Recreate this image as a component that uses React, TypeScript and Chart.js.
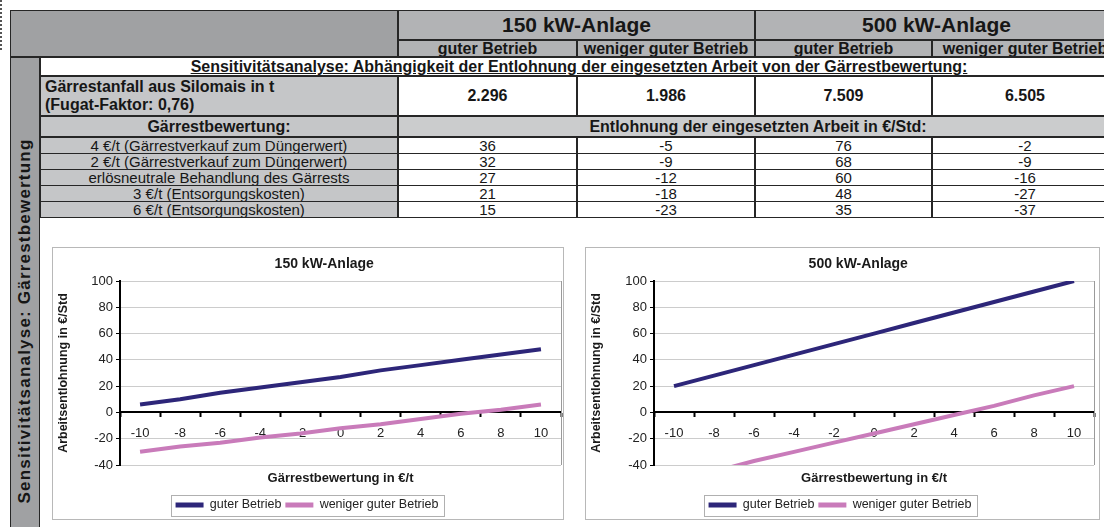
import React, { useEffect, useRef } from "react";
import { Chart, registerables } from "chart.js";

Chart.register(...registerables);

const FONT = '"Liberation Sans", Arial, Helvetica, sans-serif';
Chart.defaults.font.family = FONT;

// ---------- data ----------
const xCategories = ["-10", "-8", "-6", "-4", "-2", "0", "2", "4", "6", "8", "10"];
const yMin = -40;
const yMax = 100;
const yStep = 20;
const seriesNames = ["guter Betrieb", "weniger guter Betrieb"];
const chartTitles = ["150 kW-Anlage", "500 kW-Anlage"];
const xAxisTitle = "Gärrestbewertung in €/t";
const yAxisTitle = "Arbeitsentlohnung in €/Std";

const plant150Good = [6, 10, 15, 19, 23, 27, 32, 36, 40, 44, 48];
const plant150Less = [-30, -26, -23, -19, -16, -12, -9, -5, -1, 2, 6];
const plant500Good = [20, 28, 36, 44, 52, 60, 68, 76, 84, 92, 100];
const plant500Less = [-52, -45, -37, -30, -23, -16, -9, -2, 5, 13, 20];

const plantHeaders = ["150 kW-Anlage", "500 kW-Anlage"];
const subHeaders = ["guter Betrieb", "weniger guter Betrieb", "guter Betrieb", "weniger guter Betrieb"];
const sectionTitle =
  "Sensitivitätsanalyse: Abhängigkeit der Entlohnung der eingesetzten Arbeit von der Gärrestbewertung:";
const digestateLabel = ["Gärrestanfall aus Silomais in t", "(Fugat-Faktor: 0,76)"];
const digestateAmounts = ["2.296", "1.986", "7.509", "6.505"];
const valuationHeader = "Gärrestbewertung:";
const wageHeader = "Entlohnung der eingesetzten Arbeit in €/Std:";
const scenarios = [
  "4 €/t (Gärrestverkauf zum Düngerwert)",
  "2 €/t (Gärrestverkauf zum Düngerwert)",
  "erlösneutrale Behandlung des Gärrests",
  "3 €/t (Entsorgungskosten)",
  "6 €/t (Entsorgungskosten)",
];
const wage150Good = [36, 32, 27, 21, 15];
const wage150Less = [-5, -9, -12, -18, -23];
const wage500Good = [76, 68, 60, 48, 35];
const wage500Less = [-2, -9, -16, -27, -37];
const sideLabel = "Sensitivitätsanalyse: Gärrestbewertung";

// ---------- styles ----------
const GOOD = "#2d2679";
const LESS = "#c97bba";
const DARK_GRAY = "#a0a1a3";
const HEAD_GRAY = "#b2b3b5";
const LIGHT_GRAY = "#c5c6c8";
const LINE = "#262626";
const TEXT = "#161616";

// ---------- chart plugins ----------
const frameTitlePlugin = {
  id: "frameTitle",
  afterDraw(chart: any, _args: any, opts: any) {
    const { ctx, chartArea, width } = chart;
    ctx.save();
    ctx.font = `bold 14px ${FONT}`;
    ctx.fillStyle = "#1a1a1a";
    ctx.textAlign = "center";
    ctx.textBaseline = "middle";
    const x = (width / 2 + (chartArea.left + chartArea.right) / 2) / 2;
    ctx.fillText(opts.text, x, opts.y);
    ctx.restore();
  },
};

const plotFramePlugin = {
  id: "plotFrame",
  beforeDatasetsDraw(chart: any) {
    const { ctx, chartArea } = chart;
    ctx.save();
    ctx.strokeStyle = "#9a9a9a";
    ctx.lineWidth = 1;
    ctx.beginPath();
    const r = Math.round(chartArea.right) + 0.5;
    ctx.moveTo(r, chartArea.top);
    ctx.lineTo(r, chartArea.bottom);
    ctx.stroke();
    ctx.restore();
  },
};

const legendFramePlugin = {
  id: "legendFrame",
  afterDraw(chart: any) {
    const hb = chart.legend && chart.legend.legendHitBoxes;
    if (!hb || !hb.length) return;
    const { ctx } = chart;
    const l = Math.min(...hb.map((h: any) => h.left)) - 5;
    const r = Math.max(...hb.map((h: any) => h.left + h.width)) + 5;
    const t = hb[0].top - 4;
    const b = hb[0].top + hb[0].height + 4;
    ctx.save();
    ctx.strokeStyle = "#b0b0b0";
    ctx.lineWidth = 1;
    ctx.strokeRect(Math.round(l) + 0.5, Math.round(t) + 0.5, Math.round(r - l), Math.round(b - t));
    ctx.restore();
  },
};

type ChartProps = {
  title: string;
  good: number[];
  less: number[];
  left: number;
  top: number;
  width: number;
  height: number;
  yAxisWidth: number;
  padRight: number;
};

function LineChart(p: ChartProps) {
  const ref = useRef<HTMLCanvasElement>(null);
  useEffect(() => {
    const chart = new Chart(ref.current as HTMLCanvasElement, {
      type: "line",
      data: {
        labels: xCategories,
        datasets: [
          {
            label: seriesNames[0],
            data: p.good,
            borderColor: GOOD,
            backgroundColor: GOOD,
            borderWidth: 4,
            pointRadius: 0,
            tension: 0,
          },
          {
            label: seriesNames[1],
            data: p.less,
            borderColor: LESS,
            backgroundColor: LESS,
            borderWidth: 4,
            pointRadius: 0,
            tension: 0,
          },
        ],
      },
      options: {
        animation: false,
        responsive: false,
        maintainAspectRatio: false,
        events: [],
        layout: { padding: { top: 33, right: p.padRight, bottom: 6.75, left: 0 } },
        plugins: {
          title: { display: false },
          tooltip: { enabled: false },
          legend: {
            position: "bottom",
            labels: {
              boxWidth: 28,
              boxHeight: 5,
              padding: 4,
              color: "#222",
              font: { size: 12.5, family: FONT },
              generateLabels: (c: any) =>
                Chart.defaults.plugins.legend.labels
                  .generateLabels(c)
                  .map((l: any) => ({ ...l, lineWidth: 0, fillStyle: l.strokeStyle })),
            },
          },
          frameTitle: { text: p.title, y: 16 },
        } as any,
        scales: {
          x: {
            type: "category",
            position: { y: 0 } as any,
            offset: true,
            grid: {
              display: true,
              drawOnChartArea: false,
              drawTicks: true,
              tickLength: 4,
              offset: true,
              color: "#000",
              tickColor: "#000",
              tickWidth: 2,
            },
            border: { display: true, color: "#000", width: 2 },
            ticks: {
              color: "#222",
              font: { size: 13 },
              padding: 9,
              maxRotation: 0,
              autoSkip: false,
            },
            afterFit: (s: any) => {
              s.height = 0;
            },
          },
          x2: {
            type: "category",
            labels: xCategories,
            position: "bottom",
            grid: { display: false },
            border: { display: false },
            ticks: { display: false },
            title: {
              display: true,
              text: xAxisTitle,
              color: "#1a1a1a",
              font: { size: 13, weight: "bold" },
              padding: { top: 0, bottom: 9 },
            },
            afterFit: (s: any) => {
              s.height = 29.75;
            },
          },
          y: {
            min: yMin,
            max: yMax,
            ticks: { stepSize: yStep, color: "#222", font: { size: 13 }, padding: 3 },
            grid: { color: "#cccccc", lineWidth: 1, tickLength: 4, tickColor: "#000" },
            border: { display: true, color: "#000", width: 2 },
            title: {
              display: true,
              text: yAxisTitle,
              color: "#1a1a1a",
              font: { size: 12.5, weight: "bold" },
              padding: { top: 3.5, bottom: 0 },
            },
            afterFit: (s: any) => {
              s.width = p.yAxisWidth;
            },
          },
        } as any,
      },
      plugins: [frameTitlePlugin, plotFramePlugin, legendFramePlugin],
    } as any);
    return () => chart.destroy();
  }, []);
  return (
    <canvas
      ref={ref}
      width={p.width}
      height={p.height}
      style={{ position: "absolute", left: p.left, top: p.top, width: p.width, height: p.height }}
    />
  );
}

// ---------- table helpers ----------
type CellProps = {
  x: number;
  y: number;
  w: number;
  h: number;
  bg?: string;
  children?: React.ReactNode;
  style?: React.CSSProperties;
  border?: boolean;
};

function Cell({ x, y, w, h, bg = "#fff", children, style, border = true }: CellProps) {
  return (
    <div
      style={{
        position: "absolute",
        left: x,
        top: y,
        width: w,
        height: h,
        boxSizing: "border-box",
        background: bg,
        border: border ? `1px solid ${LINE}` : "none",
        display: "flex",
        alignItems: "center",
        justifyContent: "center",
        whiteSpace: "nowrap",
        overflow: "hidden",
        color: TEXT,
        fontFamily: FONT,
        ...style,
      }}
    >
      {children}
    </div>
  );
}

const colX = [398, 577, 755, 932];
const colW = [179, 178, 177, 186];
const rowY0 = 137;
const rowH = 16;

export default function App() {
  const wageCols = [wage150Good, wage150Less, wage500Good, wage500Less];
  return (
    <div
      style={{
        position: "fixed",
        left: 0,
        top: 0,
        width: 1104,
        height: 527,
        overflow: "hidden",
        background: "#fff",
        fontFamily: FONT,
      }}
    >
      <div
        style={{
          position: "absolute",
          left: 0,
          top: 0,
          height: 50,
          borderLeft: "2px dotted #555",
        }}
      />
      {/* header */}
      <Cell x={10} y={10} w={388} h={47} bg={DARK_GRAY} />
      <Cell x={398} y={10} w={357} h={30} bg={HEAD_GRAY} style={{ fontSize: 21, fontWeight: "bold" }}>
        {plantHeaders[0]}
      </Cell>
      <Cell x={755} y={10} w={363} h={30} bg={HEAD_GRAY} style={{ fontSize: 21, fontWeight: "bold" }}>
        {plantHeaders[1]}
      </Cell>
      {subHeaders.map((s, i) => (
        <Cell
          key={"sh" + i}
          x={colX[i]}
          y={40}
          w={colW[i]}
          h={17}
          bg={HEAD_GRAY}
          style={{ fontSize: 16, fontWeight: "bold", lineHeight: "15px" }}
        >
          {s}
        </Cell>
      ))}
      {/* side column */}
      <Cell x={10} y={57} w={30} h={480} bg={DARK_GRAY} />
      <div
        style={{
          position: "absolute",
          left: 25,
          top: 321,
          transform: "translate(-50%, -50%) rotate(-90deg)",
          whiteSpace: "nowrap",
          fontSize: 17,
          letterSpacing: 1.2,
          fontWeight: "bold",
          color: TEXT,
          fontFamily: FONT,
        }}
      >
        {sideLabel}
      </div>
      {/* section title row */}
      <Cell
        x={40}
        y={57}
        w={1078}
        h={19}
        bg="#fff"
        style={{ fontSize: 16, fontWeight: "bold", textDecoration: "underline", lineHeight: "17px" }}
      >
        {sectionTitle}
      </Cell>
      {/* digestate amount row */}
      <Cell
        x={40}
        y={76}
        w={358}
        h={40}
        bg={LIGHT_GRAY}
        style={{
          fontSize: 16,
          fontWeight: "bold",
          flexDirection: "column",
          alignItems: "flex-start",
          justifyContent: "center",
          paddingLeft: 4,
          lineHeight: "18px",
        }}
      >
        <div>{digestateLabel[0]}</div>
        <div>{digestateLabel[1]}</div>
      </Cell>
      {digestateAmounts.map((v, i) => (
        <Cell key={"da" + i} x={colX[i]} y={76} w={colW[i]} h={40} style={{ fontSize: 16, fontWeight: "bold" }}>
          {v}
        </Cell>
      ))}
      {/* valuation header row */}
      <Cell x={40} y={116} w={358} h={21} bg={LIGHT_GRAY} style={{ fontSize: 16, fontWeight: "bold" }}>
        {valuationHeader}
      </Cell>
      <Cell x={398} y={116} w={720} h={21} bg="#cbcccd" style={{ fontSize: 16, fontWeight: "bold" }}>
        {wageHeader}
      </Cell>
      {/* scenario rows */}
      {scenarios.map((s, r) => (
        <React.Fragment key={"r" + r}>
          <Cell
            x={40}
            y={rowY0 + r * rowH}
            w={358}
            h={rowH + 1}
            bg={LIGHT_GRAY}
            style={{ fontSize: 15, lineHeight: "15px" }}
          >
            {s}
          </Cell>
          {wageCols.map((col, c) => (
            <Cell
              key={"v" + r + c}
              x={colX[c]}
              y={rowY0 + r * rowH}
              w={colW[c]}
              h={rowH + 1}
              style={{ fontSize: 15, lineHeight: "15px" }}
            >
              {String(col[r])}
            </Cell>
          ))}
        </React.Fragment>
      ))}
      {/* chart frames */}
      <div
        style={{
          position: "absolute",
          left: 52,
          top: 247,
          width: 512,
          height: 273,
          boxSizing: "border-box",
          border: "1px solid #b8b8b8",
        }}
      />
      <div
        style={{
          position: "absolute",
          left: 585,
          top: 247,
          width: 515,
          height: 273,
          boxSizing: "border-box",
          border: "1px solid #b8b8b8",
        }}
      />
      <LineChart
        title={chartTitles[0]}
        good={plant150Good}
        less={plant150Less}
        left={53}
        top={248}
        width={510}
        height={280}
        yAxisWidth={67}
        padRight={2}
      />
      <LineChart
        title={chartTitles[1]}
        good={plant500Good}
        less={plant500Less}
        left={586}
        top={248}
        width={513}
        height={280}
        yAxisWidth={68}
        padRight={5}
      />
    </div>
  );
}
